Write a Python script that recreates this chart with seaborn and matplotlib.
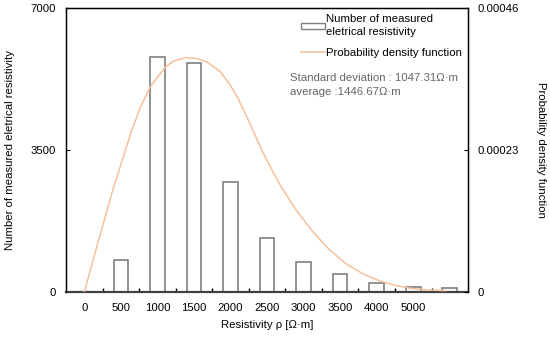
import numpy as np
import pandas as pd
import seaborn as sns
import matplotlib.pyplot as plt
from matplotlib.patches import Patch
from matplotlib.lines import Line2D

# bar data (categories on the x axis)
categories = ["0", "500", "1000", "1500", "2000", "2500", "3000", "3500", "4000", "5000", "5000+"]
tick_labels = ["0", "500", "1000", "1500", "2000", "2500", "3000", "3500", "4000", "5000", ""]
counts = [0, 800, 5800, 5650, 2710, 1340, 730, 440, 220, 130, 90]

# probability density curve (resistivity in ohm-m, density)
pdf_rho = [0, 173, 399, 650, 763, 899, 1104, 1217, 1399, 1535, 1672, 1853, 1989, 2102,
           2262, 2443, 2670, 2898, 3124, 3351, 3579, 3805, 4033, 4260, 4486, 4714, 4941]
pdf_val = [0.0, 7.4e-5, 1.69e-4, 2.62e-4, 2.98e-4, 3.32e-4, 3.64e-4, 3.74e-4,
           3.80e-4, 3.785e-4, 3.73e-4, 3.58e-4, 3.37e-4, 3.14e-4, 2.74e-4,
           2.26e-4, 1.75e-4, 1.33e-4, 9.8e-5, 6.9e-5, 4.6e-5, 3.0e-5,
           1.83e-5, 1.05e-5, 5.5e-6, 3.2e-6, 2.1e-6]

plt.rcParams["font.family"] = ["Liberation Sans", "DejaVu Sans"]
plt.rcParams["font.size"] = 8.2

df = pd.DataFrame({"rho": categories, "count": counts})

fig = plt.figure(figsize=(5.5, 3.47), dpi=100)
ax = fig.add_axes([0.12, 0.1585, 0.731, 0.818])

sns.barplot(data=df, x="rho", y="count", order=categories, ax=ax, width=0.4,
            color="white", edgecolor="#7f7f7f", linewidth=1.2, errorbar=None)
ax.set_xlim(-0.5, 10.5)
ax.set_ylim(0, 7000)
ax.set_yticks([0, 3500, 7000])
ax.set_xticks(range(len(categories)))
ax.set_xticklabels(tick_labels)
ax.set_xticks(np.arange(0.5, 10, 1), minor=True)
ax.tick_params(axis="x", which="major", length=0, pad=8)
ax.tick_params(axis="x", which="minor", direction="in", length=3, width=1)
ax.tick_params(axis="y", direction="in", length=3, pad=7)
ax.set_xlabel("Resistivity ρ [Ω·m]", labelpad=5)
ax.set_ylabel("Number of measured eletrical resistivity", labelpad=11)
for s in ["left", "top", "right"]:
    ax.spines[s].set_linewidth(1.0)
ax.spines["bottom"].set_linewidth(1.6)
ax.spines["bottom"].set_color("#404040")

ax2 = ax.twinx()
ax2.plot(np.array(pdf_rho) / 500, pdf_val, color="#f5c09a", linewidth=1.1)
ax2.set_ylim(0, 0.00046)
ax2.set_yticks([0, 0.00023, 0.00046])
ax2.set_yticklabels(["0", "0.00023", "0.00046"])
ax2.tick_params(axis="y", direction="in", length=3, pad=7)
ax2.set_ylabel("Probability density function", rotation=270, labelpad=19)
ax2.spines["bottom"].set_visible(False)

handles = [Patch(facecolor="white", edgecolor="#7f7f7f", linewidth=1.0),
           Line2D([0], [0], color="#f5c09a", linewidth=1.1)]
labels = ["Number of measured\neletrical resistivity", "Probability density function"]
leg = ax2.legend(handles, labels, loc="upper right", frameon=False, handlelength=2.1,
                 handleheight=0.45, handletextpad=0.1, borderaxespad=0.1,
                 labelspacing=0.9, bbox_to_anchor=(1.0, 1.0))
for t in leg.get_texts():
    t.set_linespacing(1.45)
ax2.text(0.558, 0.772, "Standard deviation : 1047.31Ω·m\naverage :1446.67Ω·m",
         transform=ax2.transAxes, color="#666666", va="top", ha="left", linespacing=1.5)

fig.savefig("out.png", dpi=100)
